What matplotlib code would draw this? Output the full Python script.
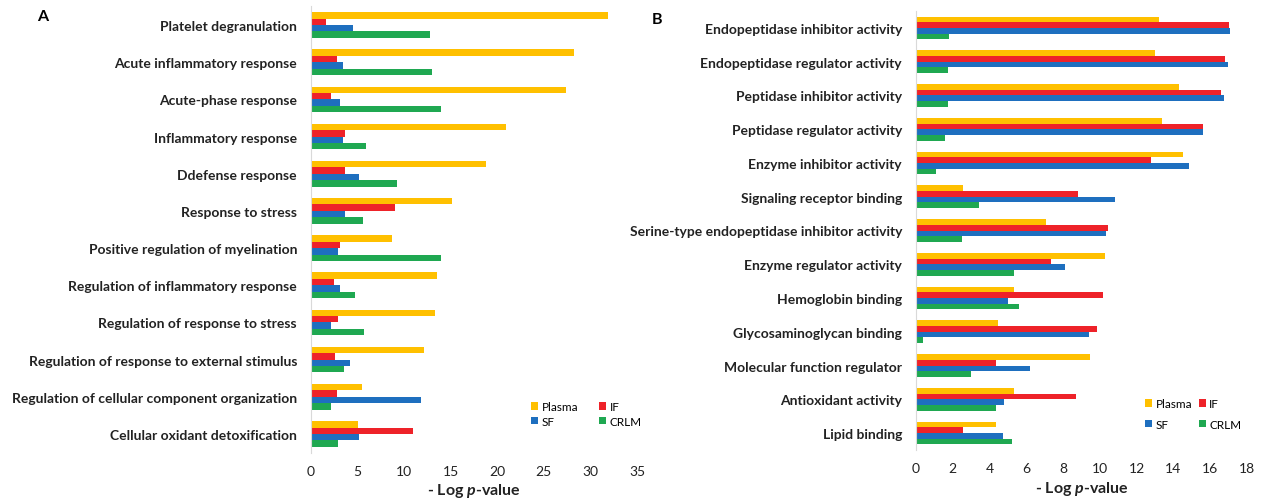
import matplotlib
matplotlib.use("Agg")
import matplotlib.pyplot as plt
import numpy as np

plt.rcParams['font.family'] = ['Lato', 'DejaVu Sans']
plt.rcParams['mathtext.fontset'] = 'custom'
plt.rcParams['mathtext.it'] = 'Lato:bold:italic'
plt.rcParams['mathtext.rm'] = 'Lato:bold'

series = ["Plasma", "IF", "SF", "CRLM"]
colors = ["#FFC000", "#EE2229", "#1E6FBF", "#1FA851"]

cats_a = ["Platelet degranulation", "Acute inflammatory response", "Acute-phase response",
          "Inflammatory response", "Ddefense response", "Response to stress",
          "Positive regulation of myelination", "Regulation of inflammatory response",
          "Regulation of response to stress", "Regulation of response to external stimulus",
          "Regulation of cellular component organization", "Cellular oxidant detoxification"]
plasma_a = [31.9, 28.2, 27.4, 20.9, 18.8, 15.1, 8.7, 13.5, 13.3, 12.1, 5.5, 5.0]
if_a = [1.6, 2.75, 2.15, 3.7, 3.6, 9.0, 3.15, 2.5, 2.95, 2.6, 2.8, 10.9]
sf_a = [4.55, 3.4, 3.1, 3.4, 5.1, 3.6, 2.85, 3.15, 2.15, 4.15, 11.8, 5.1]
crlm_a = [12.8, 13.0, 14.0, 5.9, 9.2, 5.6, 14.0, 4.7, 5.7, 3.55, 2.15, 2.85]
ticks_a = [0, 5, 10, 15, 20, 25, 30, 35]

cats_b = ["Endopeptidase inhibitor activity", "Endopeptidase regulator activity",
          "Peptidase inhibitor activity", "Peptidase regulator activity",
          "Enzyme inhibitor activity", "Signaling receptor binding",
          "Serine-type endopeptidase inhibitor activity", "Enzyme regulator activity",
          "Hemoglobin binding", "Glycosaminoglycan binding", "Molecular function regulator",
          "Antioxidant activity", "Lipid binding"]
plasma_b = [13.2, 13.0, 14.3, 13.4, 14.5, 2.55, 7.05, 10.3, 5.35, 4.45, 9.45, 5.35, 4.35]
if_b = [17.0, 16.8, 16.6, 15.6, 12.8, 8.8, 10.45, 7.35, 10.15, 9.85, 4.35, 8.7, 2.55]
sf_b = [17.1, 16.95, 16.75, 15.6, 14.85, 10.8, 10.35, 8.1, 5.0, 9.4, 6.2, 4.8, 4.75]
crlm_b = [1.8, 1.75, 1.75, 1.55, 1.1, 3.4, 2.5, 5.35, 5.6, 0.4, 3.0, 4.35, 5.2]
ticks_b = [0, 2, 4, 6, 8, 10, 12, 14, 16, 18]

W, H = 1268, 502
fig = plt.figure(figsize=(W / 100, H / 100), dpi=100)

def panel(rect, cats, data, ticks, xmax, frac, leg_xy, legend_spacing, colspace):
    ax = fig.add_axes(rect)
    n = len(cats)
    y = np.arange(n)
    h = frac / 4
    for i, (vals, col, name) in enumerate(zip(data, colors, series)):
        ax.barh(y + (i - 1.5) * h, vals, height=h, color=col, label=name)
    ax.set_ylim(n - 0.5, -0.5)
    ax.set_xlim(0, xmax)
    ax.set_yticks(y)
    ax.set_yticklabels(cats, fontsize=10, fontweight='bold', color='#222222')
    ax.set_xticks(ticks)
    ax.set_xticklabels([str(t) for t in ticks], fontsize=10, color='#222222')
    ax.tick_params(axis='both', length=0)
    ax.tick_params(axis='y', pad=10)
    ax.tick_params(axis='x', pad=9)
    for s in ['top', 'right', 'bottom']:
        ax.spines[s].set_visible(False)
    ax.spines['left'].set_color('#D9D9D9')
    ax.set_xlabel("- Log $p$-value", fontsize=11.5, fontweight='bold', color='#222222', labelpad=3)
    handles, labels = ax.get_legend_handles_labels()
    order = [0, 2, 1, 3]
    ax.legend([handles[k] for k in order], [labels[k] for k in order], ncol=2,
              loc='center left', bbox_to_anchor=(leg_xy[0] / W, 1 - leg_xy[1] / H),
              bbox_transform=fig.transFigure, frameon=False,
              fontsize=8.5, handlelength=0.6, handleheight=0.6, handletextpad=0.3,
              columnspacing=colspace, labelspacing=legend_spacing,
              borderaxespad=0, borderpad=0)
    return ax

axA = panel([311 / W, 1 - 453.6 / H, 326 / W, 446.2 / H], cats_a,
            [plasma_a, if_a, sf_a, crlm_a], ticks_a, 35, 0.69, (531, 415), 0.3, 1.74)
axB = panel([916 / W, 1 - 451 / H, 331 / W, 439 / H], cats_b,
            [plasma_b, if_b, sf_b, crlm_b], ticks_b, 18, 0.67, (1145, 415), 0.8, 0.55)

fig.text(43 / W, 1 - 17 / H, "A", fontsize=11.5, fontweight='bold', va='center', ha='center')
fig.text(657 / W, 1 - 20 / H, "B", fontsize=11.5, fontweight='bold', va='center', ha='center')

fig.savefig("out.png", dpi=100, facecolor='white')
